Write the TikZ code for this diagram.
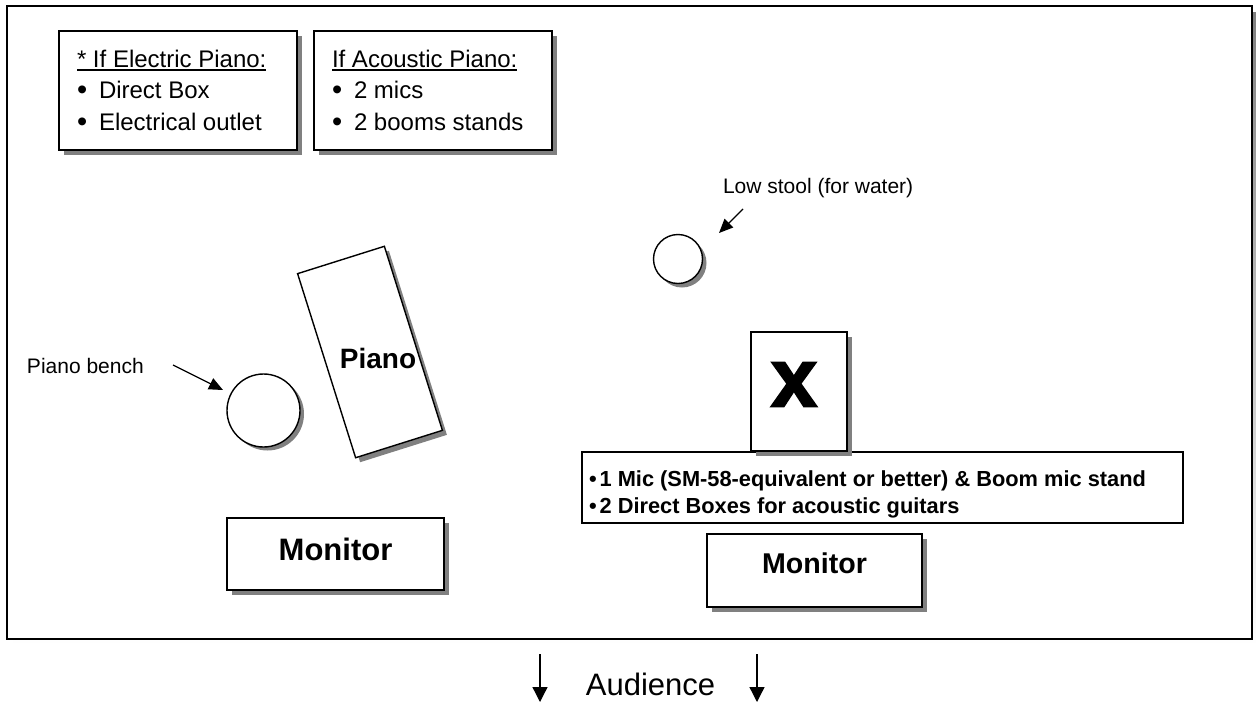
\documentclass[tikz,border=0pt]{standalone}
\usepackage{fontspec}
\setmainfont{Liberation Sans}
\newfontfamily\heavyface{Liberation Sans}[UprightFont=*-Bold,FakeBold=2.5]
\usetikzlibrary{arrows.meta}
\definecolor{shade}{RGB}{128,128,128}
\begin{document}
\begin{tikzpicture}[x=1pt,y=-1pt,
  frame/.style={draw=black,line width=1.4pt,fill=white,inner sep=0pt,outer sep=0pt},
  shadowshape/.style={fill=shade,draw=none,inner sep=0pt,outer sep=0pt},
  txt/.style={inner sep=0pt,outer sep=0pt,font=\fontsize{24}{30}\selectfont},
  dot/.style={inner sep=0pt,outer sep=0pt,font=\fontsize{29}{30}\selectfont},
  small/.style={inner sep=0pt,outer sep=0pt,font=\fontsize{21}{25}\selectfont},
  boldtxt/.style={inner sep=0pt,outer sep=0pt,font=\bfseries\fontsize{21.8}{27}\selectfont},
  pointer/.style={line width=1.3pt,-{Triangle[length=14pt,width=12pt]}},
  down/.style={line width=1.3pt,-{Triangle[length=15pt,width=15pt]}}]
\useasboundingbox (0,0) rectangle (1256,702);

% stage outline with its shadow
\fill[shade] (13,12) rectangle (1258,645);
\node[frame,line width=2.4pt,minimum width=1245pt,minimum height=633pt] (stage) at (629.5,322.5) {};

% equipment notes
\node[shadowshape,minimum width=238pt,minimum height=119pt] at (183,95.5) {};
\node[frame,minimum width=238pt,minimum height=119pt] (electric) at (178,90.5) {};
\node[shadowshape,minimum width=238pt,minimum height=119pt] at (438,95.5) {};
\node[frame,minimum width=238pt,minimum height=119pt] (acoustic) at (433,90.5) {};

\node[txt,anchor=base west] (elhead) at (77,67) {* If Electric Piano:};
\draw[line width=1.4pt] ([yshift=-3pt]elhead.base west) -- ([yshift=-3pt]elhead.base east);
\node[dot,anchor=base west] (elb1) at (77,99) {•};
\node[txt,anchor=base west] (el1) at (99,98) {Direct Box};
\node[dot,anchor=base west] (elb2) at (77,131) {•};
\node[txt,anchor=base west] (el2) at (99,130) {Electrical outlet};

\node[txt,anchor=base west] (achead) at (332,67) {If Acoustic Piano:};
\draw[line width=1.4pt] ([yshift=-3pt]achead.base west) -- ([yshift=-3pt]achead.base east);
\node[dot,anchor=base west] (acb1) at (332,99) {•};
\node[txt,anchor=base west] (ac1) at (354,98) {2 mics};
\node[dot,anchor=base west] (acb2) at (332,131) {•};
\node[txt,anchor=base west] (ac2) at (354,130) {2 booms stands};

% low stool
\node[shadowshape,circle,minimum size=49pt] at (682,263) {};
\node[frame,circle,minimum size=49pt] (stool) at (678,259) {};
\node[small,anchor=base west] (stoollabel) at (723,193) {Low stool (for water)};
\coordinate (stooltail) at (743,209);
\coordinate (stooltip) at (719,233);
\draw[pointer] (stooltail) -- (stooltip);

% piano bench
\node[shadowshape,circle,minimum size=73pt] at (267.5,414) {};
\node[frame,circle,minimum size=73pt] (bench) at (263.5,410.5) {};
\node[small,anchor=base west] (benchlabel) at (27,373) {Piano bench};
\coordinate (benchtail) at (173,365);
\coordinate (benchtip) at (223,390);
\draw[pointer] (benchtail) -- (benchtip);

% piano
\node[shadowshape,minimum width=91pt,minimum height=193pt,rotate=17.5] at (374.5,356.5) {};
\node[frame,minimum width=91pt,minimum height=193pt,rotate=17.5] (piano) at (370,352) {};
\node[inner sep=0pt,font=\bfseries\fontsize{28}{32}\selectfont,anchor=base] (pianolabel) at (378,368) {Piano};

% performer position and requirements
\node[frame,minimum width=601pt,minimum height=71pt] (needs) at (882.5,487.5) {};
\node[boldtxt,anchor=base west] (need1) at (589,486) {•\hspace{3pt}1 Mic (SM-58-equivalent or better) \& Boom mic stand};
\node[boldtxt,anchor=base west] (need2) at (589,513) {•\hspace{3pt}2 Direct Boxes for acoustic guitars};
\node[shadowshape,minimum width=96pt,minimum height=119pt] at (804,396.5) {};
\node[frame,minimum width=96pt,minimum height=119pt] (spot) at (799,391.5) {};
\node[inner sep=0pt,font=\heavyface\fontsize{83}{90}\selectfont] (mark) at (794,384.5) {x};

% monitors
\node[shadowshape,minimum width=217pt,minimum height=72pt] at (340.5,559) {};
\node[frame,minimum width=217pt,minimum height=72pt] (mon1) at (335.5,554) {};
\node[inner sep=0pt,font=\bfseries\fontsize{31}{36}\selectfont,anchor=base] (mon1label) at (335.5,560) {Monitor};
\node[shadowshape,minimum width=215pt,minimum height=73pt] at (819.5,575.5) {};
\node[frame,minimum width=215pt,minimum height=73pt] (mon2) at (814.5,570.5) {};
\node[inner sep=0pt,font=\bfseries\fontsize{28.6}{34}\selectfont,anchor=base] (mon2label) at (814.5,573) {Monitor};

% audience direction
\node[inner sep=0pt,font=\fontsize{31}{36}\selectfont,anchor=base] (audience) at (650.5,695) {Audience};
\coordinate (lefttail) at (540,654);
\coordinate (lefttip) at (540,702);
\coordinate (righttail) at (757,654);
\coordinate (righttip) at (757,702);
\draw[down] (lefttail) -- (lefttip);
\draw[down] (righttail) -- (righttip);
\end{tikzpicture}
\end{document}
